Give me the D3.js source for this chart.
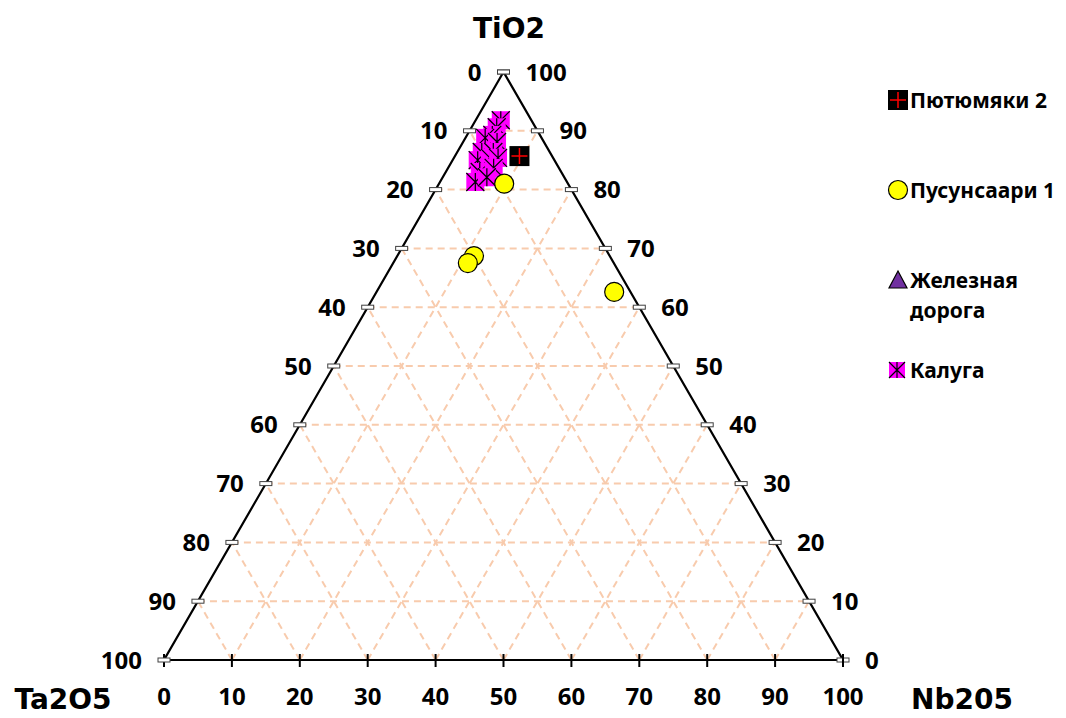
<!DOCTYPE html>
<html><head><meta charset="utf-8">
<script src="https://cdn.jsdelivr.net/npm/d3@7"></script>
<style>body{margin:0;background:#fff}svg{display:block}</style>
</head><body>
<svg id="c" width="1066" height="718"></svg>
<script>
// ---- data (percent) ----
const tickValues = [0,10,20,30,40,50,60,70,80,90,100];
const axisTitles = ["TiO2","Ta2O5","Nb205"];
const seriesNames = ["Пютюмяки 2","Пусунсаари 1","Железная дорога","Калуга"];

const putTi = [85.7];
const putNb = [9.5];
const putTa = [4.8];

const pusTi = [81.0, 68.7, 67.5, 62.6];
const pusNb = [9.6, 11.3, 11.0, 35.0];
const pusTa = [9.4, 20.0, 21.5, 2.4];

const zhdTi = [];
const zhdNb = [];
const zhdTa = [];

const kalTi = [91.8, 90.6, 89.3, 88.8, 88.1, 86.4, 86.4, 85.0, 85.4, 85.4, 83.0, 83.7, 81.3, 82.1];
const kalNb = [3.7, 3.7, 3.7, 2.9, 5.0, 3.6, 5.3, 3.7, 5.3, 6.5, 5.0, 6.7, 5.2, 6.5];
const kalTa = [4.5, 5.7, 7.0, 8.3, 6.9, 10.0, 8.3, 11.3, 9.3, 8.1, 12.0, 9.6, 13.5, 11.4];

// ---- scales ----
const svg = d3.select("#c");
const xS = d3.scaleLinear().domain([0,100]).range([164,843]);   // Nb + Ti/2
const yS = d3.scaleLinear().domain([0,100]).range([660,72]);    // Ti
function P(ti, nb){ return [xS(nb + ti/2), yS(ti)]; }

const grid = svg.append("g");
const gridColor = "#F8CBAD";
tickValues.filter(v=>v>0 && v<100).forEach(v=>{
  let a=P(v,0), b=P(v,100-v);
  grid.append("line").attr("x1",a[0]).attr("y1",a[1]).attr("x2",b[0]).attr("y2",b[1]);
  a=P(0,v); b=P(100-v,v);
  grid.append("line").attr("x1",a[0]).attr("y1",a[1]).attr("x2",b[0]).attr("y2",b[1]);
  a=P(0,100-v); b=P(100-v,0);
  grid.append("line").attr("x1",a[0]).attr("y1",a[1]).attr("x2",b[0]).attr("y2",b[1]);
});
grid.selectAll("line").attr("stroke",gridColor).attr("stroke-width",2).attr("stroke-dasharray","7,5");

// triangle
const A=P(100,0), L=P(0,0), R=P(0,100);
svg.append("path").attr("d",`M${A[0]},${A[1]}L${L[0]},${L[1]}L${R[0]},${R[1]}Z`)
  .attr("fill","none").attr("stroke","#000").attr("stroke-width",2.2);

// ticks
const tg = svg.append("g");
const lblFont = "'Noto Sans', 'Open Sans', sans-serif";
tickValues.forEach(v=>{
  let p = P(100-v, 0);
  tg.append("rect").attr("x",p[0]-6).attr("y",p[1]-2).attr("width",12).attr("height",4)
    .attr("fill","#fff").attr("stroke","#404040").attr("stroke-width",1);
  tg.append("text").attr("x",p[0]-22).attr("y",p[1]).attr("dy","0.36em").attr("text-anchor","end").text(v);
  p = P(v, 100-v);
  tg.append("rect").attr("x",p[0]-6).attr("y",p[1]-2).attr("width",12).attr("height",4)
    .attr("fill","#fff").attr("stroke","#404040").attr("stroke-width",1);
  tg.append("text").attr("x",p[0]+22).attr("y",p[1]).attr("dy","0.36em").attr("text-anchor","start").text(v);
  p = P(0, v);
  tg.append("line").attr("x1",p[0]).attr("x2",p[0]).attr("y1",p[1]-6).attr("y2",p[1]+7)
    .attr("stroke","#000").attr("stroke-width",2);
  tg.append("text").attr("x",p[0]).attr("y",p[1]+36).attr("dy","0.36em").attr("text-anchor","middle").text(v);
});
tg.selectAll("text").attr("font-family",lblFont).attr("font-weight","bold").attr("font-size",24).attr("fill","#000");

// titles
const titleFont = "'DejaVu Sans', Verdana, sans-serif";
const tt = svg.append("g").attr("font-family",titleFont).attr("font-weight","bold").attr("font-size",28).attr("fill","#000");
tt.append("text").attr("x",509).attr("y",28).attr("dy","0.35em").attr("text-anchor","middle").text(axisTitles[0]);
tt.append("text").attr("x",63).attr("y",699).attr("dy","0.35em").attr("text-anchor","middle").text(axisTitles[1]);
tt.append("text").attr("x",962).attr("y",699).attr("dy","0.35em").attr("text-anchor","middle").text(axisTitles[2]);

// markers
function markPut(g, x, y){
  g.append("rect").attr("x",x-10).attr("y",y-10).attr("width",20).attr("height",20).attr("fill","#000");
  g.append("path").attr("d",`M${x-8},${y}H${x+8}M${x},${y-8}V${y+8}`).attr("stroke","#ff0000").attr("stroke-width",1.5);
}
function markPus(g, x, y){
  g.append("circle").attr("cx",x).attr("cy",y).attr("r",9.5).attr("fill","#ffff00").attr("stroke","#000").attr("stroke-width",1.2);
}
function markZhd(g, x, y){
  g.append("path").attr("d",`M${x},${y-9}L${x+9},${y+8}L${x-9},${y+8}Z`).attr("fill","#7030A0").attr("stroke","#000").attr("stroke-width",1.2);
}
function markKal(g, x, y, s){
  s = s||9;
  g.append("rect").attr("x",x-s).attr("y",y-s).attr("width",2*s).attr("height",2*s).attr("fill","#ff00ff");
  g.append("path").attr("d",`M${x-s},${y-s}L${x+s},${y+s}M${x+s},${y-s}L${x-s},${y+s}M${x},${y-s}V${y+s}`)
    .attr("stroke","#000").attr("stroke-width",1.2);
}

const pts = svg.append("g");
kalTi.forEach((t,i)=>{ const p=P(t,kalNb[i]); markKal(pts,p[0],p[1]); });
zhdTi.forEach((t,i)=>{ const p=P(t,zhdNb[i]); markZhd(pts,p[0],p[1]); });
putTi.forEach((t,i)=>{ const p=P(t,putNb[i]); markPut(pts,p[0],p[1]); });
pusTi.forEach((t,i)=>{ const p=P(t,pusNb[i]); markPus(pts,p[0],p[1]); });

// legend
const lg = svg.append("g");
const legY = [100, 190, 280, 370];
const legFont = "'Noto Sans', 'Open Sans', sans-serif";
markPut(lg, 898, legY[0]);
markPus(lg, 898, legY[1]);
markZhd(lg, 898, legY[2]);
markKal(lg, 897, legY[3], 8);
function legText(y, lines){
  const t = lg.append("text").attr("x",910).attr("y",y).attr("font-family",legFont).attr("font-weight","bold")
    .attr("font-size",21).attr("fill","#000");
  lines.forEach((s,i)=>t.append("tspan").attr("x",910).attr("dy", i===0 ? "0.36em" : "1.45em").text(s));
}
legText(legY[0],[seriesNames[0]]);
legText(legY[1],[seriesNames[1]]);
legText(legY[2],["Железная","дорога"]);
legText(legY[3],[seriesNames[3]]);
</script>
</body></html>
